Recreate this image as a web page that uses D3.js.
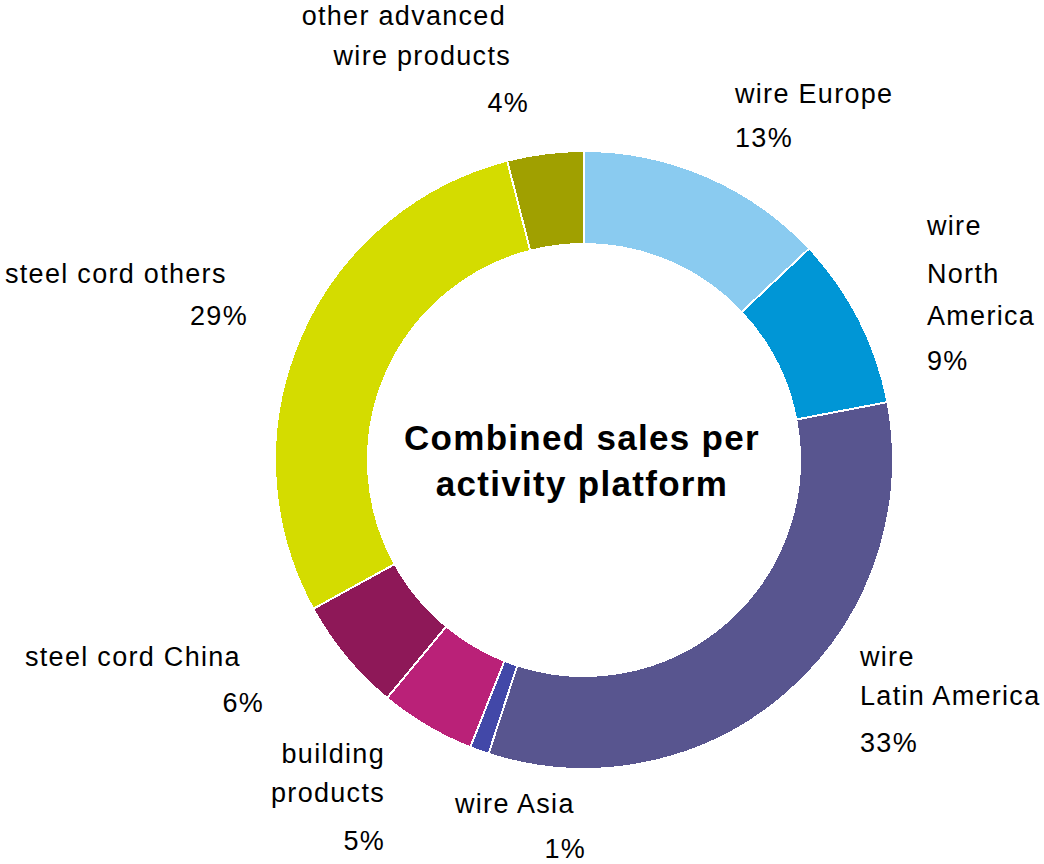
<!DOCTYPE html>
<html>
<head>
<meta charset="utf-8">
<script src="https://cdn.jsdelivr.net/npm/d3@7"></script>
<style>
  html, body { margin: 0; padding: 0; background: #fff; }
  svg { display: block; }
  text { font-family: "Liberation Sans", Arial, sans-serif; fill: #000; }
</style>
</head>
<body>
<svg id="chart" width="1044" height="864"></svg>
<script>
// Sales share per activity platform (percent), clockwise from 12 o'clock
const platforms = ["wire Europe", "wire North America", "wire Latin America", "wire Asia",
                   "building products", "steel cord China", "steel cord others",
                   "other advanced wire products"];
const shares = [13, 9, 33, 1, 5, 6, 29, 4];
const colors = ["#8ACBF0", "#0096D6", "#58558F", "#4248A8",
                "#BA2178", "#8E1858", "#D4DC00", "#A0A000"];
const titleLines = ["Combined sales per", "activity platform"];

// Label layout: wrapped lines, anchor point and alignment for each platform
const labelLayout = [
  { lines: ["wire Europe", "13%"], x: 735, y: [103, 147], anchor: "start" },
  { lines: ["wire", "North", "America", "9%"], x: 927, y: [235, 283, 325, 370], anchor: "start" },
  { lines: ["wire", "Latin America", "33%"], x: 860, y: [666, 705, 752], anchor: "start" },
  { lines: ["wire Asia", "1%"], x: [455, 586], y: [813, 858], anchor: ["start", "end"] },
  { lines: ["building", "products", "5%"], x: 385, y: [763, 802, 850], anchor: "end" },
  { lines: ["steel cord China", "6%"], x: [25, 264], y: [666, 712], anchor: ["start", "end"] },
  { lines: ["steel cord others", "29%"], x: [5, 248], y: [283, 325], anchor: ["start", "end"] },
  { lines: ["other advanced", "wire products", "4%"], x: [506, 511, 529], y: [25, 65, 112], anchor: "end" }
];

const svg = d3.select("#chart");
const cx = 584, cy = 460;
const outerR = 309, innerR = 216;

const pie = d3.pie().sort(null).value(d => d.value).startAngle(0).endAngle(2 * Math.PI);
const arc = d3.arc().innerRadius(innerR).outerRadius(outerR);

const data = platforms.map((p, i) => ({ name: p, value: shares[i], color: colors[i] }));

const g = svg.append("g").attr("transform", `translate(${cx},${cy})`);

g.selectAll("path.slice")
  .data(pie(data))
  .join("path")
  .attr("class", "slice")
  .attr("d", arc)
  .attr("fill", d => d.data.color)
  .attr("stroke", "#fff")
  .attr("stroke-width", 2)
  .attr("shape-rendering", "crispEdges");

// Category labels
const labels = svg.append("g").attr("font-size", 27).attr("letter-spacing", 1.3);
labelLayout.forEach((lab, i) => {
  lab.lines.forEach((line, j) => {
    const x = Array.isArray(lab.x) ? lab.x[j] : lab.x;
    const anchor = Array.isArray(lab.anchor) ? lab.anchor[j] : lab.anchor;
    labels.append("text")
      .attr("x", x)
      .attr("y", lab.y[j])
      .attr("text-anchor", anchor)
      .text(j === lab.lines.length - 1 ? d3.format(".0f")(shares[i]) + "%" : line);
  });
});

// Centre title
svg.append("g")
  .selectAll("text")
  .data(titleLines)
  .join("text")
  .attr("x", cx - 2)
  .attr("y", (d, i) => 450 + i * 46)
  .attr("text-anchor", "middle")
  .attr("font-size", 35)
  .attr("letter-spacing", 1.3)
  .attr("font-weight", "bold")
  .text(d => d);
</script>
</body>
</html>
